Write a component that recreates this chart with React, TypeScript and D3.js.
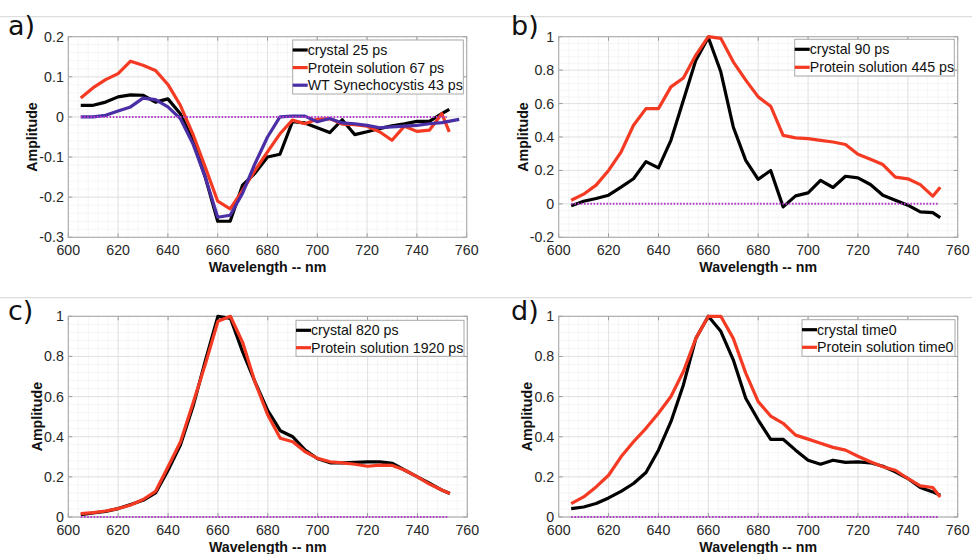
import React from "react";
import * as d3 from "d3";

// Wavelength sampling (nm)
const wl = [605, 610, 615, 620, 625, 630, 635, 640, 645, 650, 655, 660, 665, 670, 675, 680, 685, 690, 695, 700, 705, 710, 715, 720, 725, 730, 735, 740, 745, 750, 753];
const wlWT = [605, 610, 615, 620, 625, 630, 635, 640, 645, 650, 655, 660, 665, 670, 675, 680, 685, 690, 695, 700, 705, 710, 715, 720, 725, 730, 735, 740, 745, 750, 757];

// a) decay-associated spectra, fast component
const crystal25 = [0.029, 0.029, 0.037, 0.05, 0.055, 0.054, 0.037, 0.045, 0.008, -0.058, -0.15, -0.26, -0.26, -0.17, -0.14, -0.1, -0.093, -0.012, -0.015, -0.027, -0.039, -0.007, -0.044, -0.037, -0.029, -0.022, -0.017, -0.011, -0.011, 0.008, 0.019];
const protein67 = [0.047, 0.073, 0.093, 0.108, 0.139, 0.129, 0.116, 0.081, 0.029, -0.042, -0.125, -0.21, -0.229, -0.183, -0.133, -0.087, -0.042, -0.008, -0.017, -0.006, -0.004, -0.018, -0.019, -0.023, -0.037, -0.058, -0.023, -0.036, -0.033, 0.008, -0.037];
const wt43 = [0, 0, 0.004, 0.015, 0.025, 0.047, 0.043, 0.025, -0.004, -0.066, -0.15, -0.25, -0.245, -0.19, -0.116, -0.05, 0, 0.002, 0.002, -0.012, -0.004, -0.015, -0.017, -0.021, -0.027, -0.025, -0.023, -0.021, -0.017, -0.014, -0.006];

// b) intermediate component
const crystal90 = [-0.012, 0.016, 0.032, 0.052, 0.1, 0.15, 0.253, 0.215, 0.38, 0.62, 0.86, 0.995, 0.79, 0.46, 0.26, 0.147, 0.2, -0.018, 0.048, 0.066, 0.14, 0.098, 0.165, 0.155, 0.116, 0.052, 0.022, -0.008, -0.048, -0.052, -0.082];
const protein445 = [0.022, 0.058, 0.112, 0.2, 0.31, 0.47, 0.57, 0.57, 0.7, 0.753, 0.89, 1.0, 0.99, 0.85, 0.74, 0.64, 0.584, 0.41, 0.395, 0.39, 0.38, 0.37, 0.355, 0.297, 0.267, 0.235, 0.16, 0.15, 0.115, 0.046, 0.1];

// c) slow component
const crystal820 = [0.012, 0.02, 0.028, 0.042, 0.062, 0.083, 0.12, 0.233, 0.36, 0.55, 0.78, 1.0, 0.99, 0.82, 0.67, 0.53, 0.43, 0.4, 0.333, 0.29, 0.27, 0.27, 0.272, 0.275, 0.275, 0.267, 0.233, 0.2, 0.167, 0.133, 0.117];
const protein1920 = [0.017, 0.022, 0.03, 0.042, 0.06, 0.087, 0.128, 0.25, 0.375, 0.567, 0.763, 0.975, 1.0, 0.867, 0.667, 0.508, 0.392, 0.375, 0.325, 0.292, 0.275, 0.27, 0.263, 0.253, 0.258, 0.257, 0.233, 0.2, 0.163, 0.133, 0.117];

// d) spectra at time zero
const crystalT0 = [0.042, 0.05, 0.067, 0.095, 0.128, 0.167, 0.222, 0.333, 0.475, 0.658, 0.89, 1.0, 0.925, 0.783, 0.592, 0.483, 0.387, 0.387, 0.333, 0.283, 0.263, 0.283, 0.272, 0.275, 0.27, 0.253, 0.225, 0.192, 0.147, 0.125, 0.108];
const proteinT0 = [0.067, 0.1, 0.15, 0.208, 0.3, 0.375, 0.442, 0.517, 0.6, 0.725, 0.89, 1.0, 1.0, 0.89, 0.717, 0.575, 0.503, 0.467, 0.408, 0.388, 0.367, 0.347, 0.333, 0.303, 0.275, 0.25, 0.233, 0.192, 0.155, 0.147, 0.1];

const xTicks = [600, 620, 640, 660, 680, 700, 720, 740, 760];
const yTicksA = [-0.3, -0.2, -0.1, 0, 0.1, 0.2];
const yTicksB = [-0.2, 0, 0.2, 0.4, 0.6, 0.8, 1];
const yTicksCD = [0, 0.2, 0.4, 0.6, 0.8, 1];

const BLACK = "#000000";
const RED = "#f43a22";
const BLUE = "#4a2ea6";
const ZERO = "#b03cc8";
const FONT = "'Liberation Sans', Arial, Helvetica, sans-serif";

type Series = { name: string; x: number[]; y: number[]; color: string };
type Panel = {
  tag: string;
  tagX: number;
  tagY: number;
  left: number;
  right: number;
  top: number;
  bottom: number;
  yDomain: [number, number];
  yTicks: number[];
  yMinor: number;
  yTitleX: number;
  legend: { x: number; y: number; w: number; h: number; rowH: number };
  series: Series[];
};

const panels: Panel[] = [
  {
    tag: "a)", tagX: 8, tagY: 35,
    left: 68.3, right: 466.7, top: 36.7, bottom: 237.3,
    yDomain: [-0.3, 0.2], yTicks: yTicksA, yMinor: 0.02, yTitleX: 32,
    legend: { x: 292.7, y: 40, w: 170.6, h: 54, rowH: 17.6 },
    series: [
      { name: "crystal 25 ps", x: wl, y: crystal25, color: BLACK },
      { name: "Protein solution 67 ps", x: wl, y: protein67, color: RED },
      { name: "WT Synechocystis 43 ps", x: wlWT, y: wt43, color: BLUE },
    ],
  },
  {
    tag: "b)", tagX: 511, tagY: 35,
    left: 558.7, right: 957.7, top: 36.7, bottom: 237.3,
    yDomain: [-0.2, 1], yTicks: yTicksB, yMinor: 0.04, yTitleX: 523,
    legend: { x: 794.7, y: 39.3, w: 159.6, h: 36.7, rowH: 18 },
    series: [
      { name: "crystal 90 ps", x: wl, y: crystal90, color: BLACK },
      { name: "Protein solution 445 ps", x: wl, y: protein445, color: RED },
    ],
  },
  {
    tag: "c)", tagX: 8, tagY: 320,
    left: 68.3, right: 467.3, top: 316.3, bottom: 517,
    yDomain: [0, 1], yTicks: yTicksCD, yMinor: 0.04, yTitleX: 37,
    legend: { x: 296, y: 320.3, w: 168, h: 36, rowH: 17.4 },
    series: [
      { name: "crystal 820 ps", x: wl, y: crystal820, color: BLACK },
      { name: "Protein solution 1920 ps", x: wl, y: protein1920, color: RED },
    ],
  },
  {
    tag: "d)", tagX: 511, tagY: 320,
    left: 558.7, right: 957.7, top: 316.3, bottom: 517,
    yDomain: [0, 1], yTicks: yTicksCD, yMinor: 0.04, yTitleX: 527,
    legend: { x: 802, y: 319.7, w: 153, h: 36.6, rowH: 17.6 },
    series: [
      { name: "crystal time0", x: wl, y: crystalT0, color: BLACK },
      { name: "Protein solution time0", x: wl, y: proteinT0, color: RED },
    ],
  },
];

function fmt(v: number): string {
  const r = Math.round(v * 10) / 10;
  if (r === 0) return "0";
  if (Number.isInteger(r)) return String(r);
  return r.toFixed(1);
}

function PanelView({ p }: { p: Panel }) {
  const x = d3.scaleLinear().domain([600, 760]).range([p.left, p.right]);
  const y = d3.scaleLinear().domain(p.yDomain).range([p.bottom, p.top]);
  const xMinor = d3.range(600, 760.001, 4);
  const yMinor = d3.range(p.yDomain[0], p.yDomain[1] + 1e-9, p.yMinor);
  const line = d3
    .line<[number, number]>()
    .x((d) => x(d[0]))
    .y((d) => y(d[1]));
  const zeroX0 = 605;
  const zeroX1 = 752;
  const midX = (p.left + p.right) / 2;
  const midY = (p.top + p.bottom) / 2;
  const lg = p.legend;

  return (
    <g>
      <text x={p.tagX} y={p.tagY} fontFamily="'DejaVu Sans', sans-serif" fontSize={27} fill="#111">
        {p.tag}
      </text>
      <rect x={p.left} y={p.top} width={p.right - p.left} height={p.bottom - p.top} fill="#ffffff" />
      {/* minor grid */}
      {xMinor.map((v, i) => (
        <line key={"xm" + i} x1={x(v)} x2={x(v)} y1={p.top} y2={p.bottom} stroke="#f0f0f0" strokeWidth={0.7} />
      ))}
      {yMinor.map((v, i) => (
        <line key={"ym" + i} x1={p.left} x2={p.right} y1={y(v)} y2={y(v)} stroke="#f0f0f0" strokeWidth={0.7} />
      ))}
      {/* major grid */}
      {xTicks.map((v) => (
        <line key={"xg" + v} x1={x(v)} x2={x(v)} y1={p.top} y2={p.bottom} stroke="#dddddd" strokeWidth={0.8} />
      ))}
      {p.yTicks.map((v) => (
        <line key={"yg" + v} x1={p.left} x2={p.right} y1={y(v)} y2={y(v)} stroke="#dddddd" strokeWidth={0.8} />
      ))}
      {/* tick marks */}
      {xTicks.map((v) => (
        <g key={"xt" + v}>
          <line x1={x(v)} x2={x(v)} y1={p.bottom} y2={p.bottom - 4} stroke="#9a9a9a" />
          <line x1={x(v)} x2={x(v)} y1={p.top} y2={p.top + 4} stroke="#9a9a9a" />
        </g>
      ))}
      {p.yTicks.map((v) => (
        <g key={"yt" + v}>
          <line x1={p.left} x2={p.left + 4} y1={y(v)} y2={y(v)} stroke="#9a9a9a" />
          <line x1={p.right} x2={p.right - 4} y1={y(v)} y2={y(v)} stroke="#9a9a9a" />
        </g>
      ))}
      <rect x={p.left} y={p.top} width={p.right - p.left} height={p.bottom - p.top} fill="none" stroke="#a8a8a8" strokeWidth={1} />
      {/* tick labels */}
      {xTicks.map((v) => (
        <text key={"xl" + v} x={x(v)} y={p.bottom + 18} textAnchor="middle" fontFamily={FONT} fontSize={14.2} fill="#262626">
          {v}
        </text>
      ))}
      {p.yTicks.map((v) => (
        <text key={"yl" + v} x={p.left - 4.5} y={y(v) + 5} textAnchor="end" fontFamily={FONT} fontSize={14.2} fill="#262626">
          {fmt(v)}
        </text>
      ))}
      {/* axis titles */}
      <text x={midX} y={p.bottom + 35} textAnchor="middle" fontFamily={FONT} fontSize={14.2} fontWeight="bold" fill="#111">
        Wavelength -- nm
      </text>
      <text
        transform={`translate(${p.yTitleX},${midY}) rotate(-90)`}
        textAnchor="middle"
        dominantBaseline="central"
        fontFamily={FONT}
        fontSize={14.2}
        fontWeight="bold"
        fill="#111"
      >
        Amplitude
      </text>
      {/* spectra */}
      {p.series.map((s) => (
        <path
          key={s.name}
          d={line(s.x.map((xv, i) => [xv, s.y[i]] as [number, number])) || ""}
          fill="none"
          stroke={s.color}
          strokeWidth={3.2}
          strokeLinejoin="round"
          strokeLinecap="butt"
        />
      ))}
      {/* zero baseline */}
      <line
        x1={x(zeroX0)}
        x2={x(zeroX1)}
        y1={y(0)}
        y2={y(0)}
        stroke={ZERO}
        strokeWidth={2}
        strokeDasharray="1.6,1.6"
      />
      {/* legend */}
      <rect x={lg.x} y={lg.y} width={lg.w} height={lg.h} fill="#ffffff" stroke="#a8a8a8" strokeWidth={1} />
      {p.series.map((s, i) => {
        const cy = lg.y + 10 + i * lg.rowH;
        return (
          <g key={"lg" + s.name}>
            <line x1={lg.x} x2={lg.x + 15} y1={cy} y2={cy} stroke={s.color} strokeWidth={3.2} />
            <text x={lg.x + 15} y={cy + 5} fontFamily={FONT} fontSize={14.2} fill="#111">
              {s.name}
            </text>
          </g>
        );
      })}
    </g>
  );
}

export default function App() {
  return (
    <svg
      width={972}
      height={554}
      viewBox="0 0 972 554"
      style={{ position: "absolute", left: 0, top: 0, background: "#ffffff" }}
    >
      <rect x={0} y={0} width={972} height={554} fill="#ffffff" />
      <line x1={0} x2={972} y1={16.7} y2={16.7} stroke="#d6d6d6" strokeWidth={1} />
      <line x1={0} x2={972} y1={297.7} y2={297.7} stroke="#d6d6d6" strokeWidth={1} />
      {panels.map((p) => (
        <PanelView key={p.tag} p={p} />
      ))}
    </svg>
  );
}
